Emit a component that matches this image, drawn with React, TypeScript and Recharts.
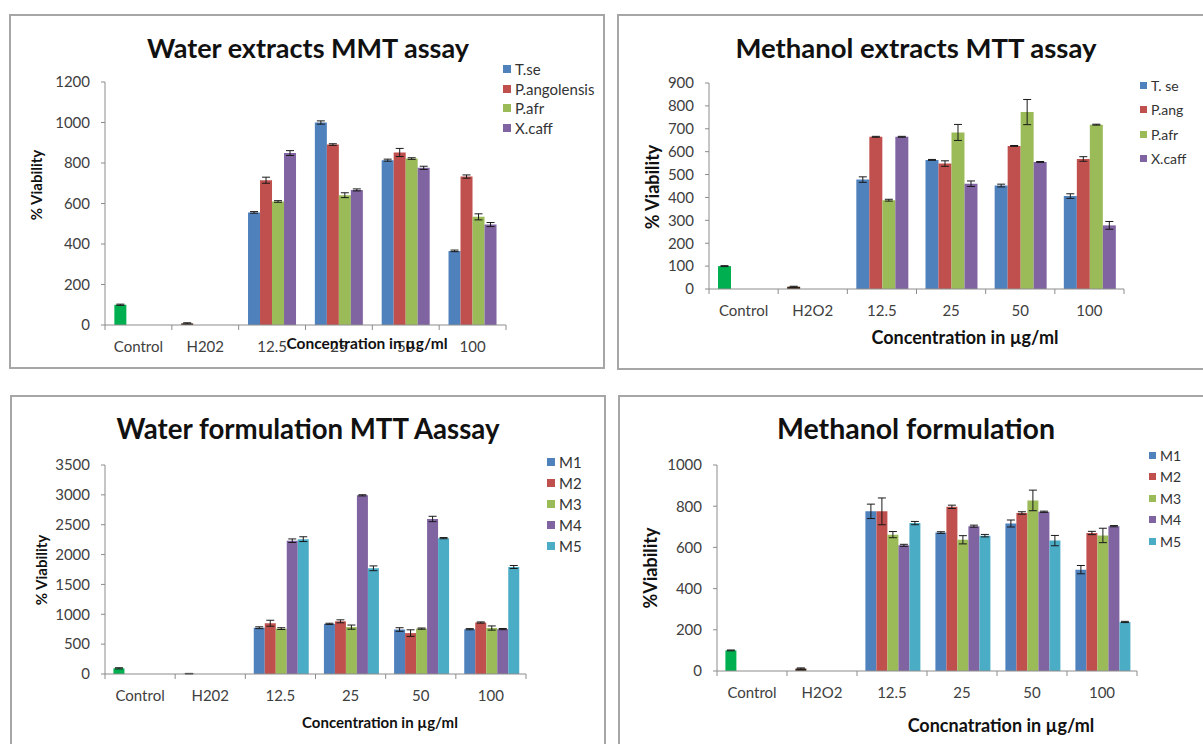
import React from 'react';
import { BarChart, Bar, XAxis, YAxis, ErrorBar, Cell } from 'recharts';

// ---------- data ----------
const categoriesWaterExt = ['Control', 'H202', '12.5', '25', '50', '100'];
const categoriesMethExt = ['Control', 'H2O2', '12.5', '25', '50', '100'];
const categoriesWaterForm = ['Control', 'H202', '12.5', '25', '50', '100'];
const categoriesMethForm = ['Control', 'H2O2', '12.5', '25', '50', '100'];

// Panel 1: Water extracts
const we_tse = [100, 8, 556, 1000, 814, 366];
const we_tseErr = [3, 3, 4, 8, 5, 4];
const we_pang = [null, null, 715, 891, 852, 733];
const we_pangErr = [null, null, 15, 4, 20, 8];
const we_pafr = [null, null, 610, 641, 822, 534];
const we_pafrErr = [null, null, 4, 12, 4, 15];
const we_xcaff = [null, null, 849, 667, 776, 496];
const we_xcaffErr = [null, null, 12, 5, 8, 10];

// Panel 2: Methanol extracts
const me_tse = [100, 10, 478, 564, 452, 406];
const me_tseErr = [2, 2, 12, 2, 6, 10];
const me_pang = [null, null, 665, 548, 625, 568];
const me_pangErr = [null, null, 2, 12, 2, 10];
const me_pafr = [null, null, 388, 684, 773, 718];
const me_pafrErr = [null, null, 4, 35, 55, 2];
const me_xcaff = [null, null, 665, 460, 555, 278];
const me_xcaffErr = [null, null, 2, 12, 2, 17];

// Panel 3: Water formulation
const wf_m1 = [95, 5, 775, 840, 745, 750];
const wf_m1Err = [10, 5, 15, 10, 30, 10];
const wf_m2 = [null, null, 850, 882, 685, 862];
const wf_m2Err = [null, null, 50, 25, 55, 10];
const wf_m3 = [null, null, 760, 785, 760, 770];
const wf_m3Err = [null, null, 15, 35, 10, 35];
const wf_m4 = [null, null, 2232, 2992, 2596, 752];
const wf_m4Err = [null, null, 30, 10, 45, 10];
const wf_m5 = [null, null, 2258, 1770, 2275, 1792];
const wf_m5Err = [null, null, 40, 40, 10, 25];

// Panel 4: Methanol formulation
const mf_m1 = [100, 12, 775, 672, 716, 492];
const mf_m1Err = [2, 3, 35, 4, 17, 20];
const mf_m2 = [null, null, 775, 797, 767, 670];
const mf_m2Err = [null, null, 65, 8, 6, 8];
const mf_m3 = [null, null, 662, 637, 828, 658];
const mf_m3Err = [null, null, 15, 20, 50, 35];
const mf_m4 = [null, null, 610, 703, 773, 703];
const mf_m4Err = [null, null, 5, 5, 3, 3];
const mf_m5 = [null, null, 718, 657, 633, 238];
const mf_m5Err = [null, null, 8, 6, 25, 3];

const ticksWaterExt = [0, 200, 400, 600, 800, 1000, 1200];
const ticksMethExt = [0, 100, 200, 300, 400, 500, 600, 700, 800, 900];
const ticksWaterForm = [0, 500, 1000, 1500, 2000, 2500, 3000, 3500];
const ticksMethForm = [0, 200, 400, 600, 800, 1000];

// ---------- styles ----------
const FONT = 'Lato, "Open Sans", sans-serif';
const BLUE = '#4F81BD';
const RED = '#C0504D';
const GREEN = '#9BBB59';
const PURPLE = '#8064A2';
const AQUA = '#4BACC6';
const CONTROL = '#00B050';
const H2O2C = '#3d2314';
const AXIS = '#8c8c8c';
const TICKTXT = '#404040';

type Series = { name: string; values: (number | null)[]; errors: (number | null)[]; color: string };

const XTick = (props: any) => {
  const { x, y, payload, index, band, n } = props;
  return (
    <g>
      <line x1={x - band / 2} x2={x - band / 2} y1={y} y2={y + 5} stroke={AXIS} />
      {index === n - 1 ? <line x1={x + band / 2} x2={x + band / 2} y1={y} y2={y + 5} stroke={AXIS} /> : null}
      <text x={x} y={y + 27} textAnchor="middle" fontSize={15} fill={TICKTXT} fontFamily={FONT}>
        {payload.value}
      </text>
    </g>
  );
};

function ChartPanel(props: {
  categories: string[];
  series: Series[];
  plotLeft: number;
  plotRight: number;
  plotTop: number;
  plotBottom: number;
  yTicks: number[];
  gap: string;
}) {
  const { categories, series, plotLeft, plotRight, plotTop, plotBottom, yTicks, gap } = props;
  const yw = 60, mt = 10, mr = 10, xh = 30, mb = 10;
  const left = plotLeft - yw;
  const top = plotTop - mt;
  const width = plotRight - left + mr;
  const height = plotBottom - top + xh + mb;
  const band = (plotRight - plotLeft) / categories.length;
  const rows = categories.map((c, i) => {
    const r: any = { cat: c };
    series.forEach((s, k) => {
      r['v' + k] = s.values[i];
      r['e' + k] = s.errors[i];
    });
    return r;
  });
  return (
    <div style={{ position: 'absolute', left, top, width, height }}>
      <BarChart
        width={width}
        height={height}
        data={rows}
        margin={{ top: mt, right: mr, bottom: mb, left: 0 }}
        barCategoryGap={gap}
        barGap={0}
      >
        <XAxis
          dataKey="cat"
          height={xh}
          interval={0}
          tickSize={0}
          tickMargin={0}
          axisLine={{ stroke: AXIS }}
          tickLine={false}
          tick={(p: any) => <XTick {...p} band={band} n={categories.length} />}
        />
        <YAxis
          width={yw}
          domain={[0, yTicks[yTicks.length - 1]]}
          ticks={yTicks}
          interval={0}
          tickSize={4}
          tickMargin={11}
          axisLine={{ stroke: AXIS }}
          tickLine={{ stroke: AXIS }}
          tick={{ fontSize: 15, fill: TICKTXT, fontFamily: FONT }}
        />
        {series.map((s, k) => (
          <Bar key={s.name} dataKey={'v' + k} name={s.name} fill={s.color} isAnimationActive={false}>
            {k === 0
              ? rows.map((_, i) => <Cell key={i} fill={i === 0 ? CONTROL : i === 1 ? H2O2C : s.color} />)
              : null}
            <ErrorBar dataKey={'e' + k} width={4} stroke="#1a1a1a" strokeWidth={1} direction="y" />
          </Bar>
        ))}
      </BarChart>
    </div>
  );
}

function Legend(props: { series: Series[]; left: number; top: number; spacing: number; fontSize: number; sq: number }) {
  const { series, left, top, spacing, fontSize, sq } = props;
  return (
    <>
      {series.map((s, i) => (
        <div
          key={s.name}
          style={{
            position: 'absolute',
            left,
            top: top + i * spacing,
            height: 20,
            transform: 'translateY(-50%)',
            display: 'flex',
            alignItems: 'center',
            fontFamily: FONT,
            fontSize,
            color: '#333',
            whiteSpace: 'nowrap',
          }}
        >
          <span style={{ display: 'inline-block', width: sq, height: sq, background: s.color, marginRight: 4 }} />
          {s.name}
        </div>
      ))}
    </>
  );
}

function Txt(props: { text: string; x: number; y: number; size: number; rotate?: boolean; weight?: number }) {
  const { text, x, y, size, rotate, weight = 700 } = props;
  return (
    <div
      style={{
        position: 'absolute',
        left: x,
        top: y,
        transform: `translate(-50%, -50%)${rotate ? ' rotate(-90deg)' : ''}`,
        fontFamily: FONT,
        fontWeight: weight,
        fontSize: size,
        color: '#111',
        whiteSpace: 'nowrap',
        lineHeight: 1,
      }}
    >
      {text}
    </div>
  );
}

const boxStyle = (left: number, top: number, width: number, height: number): React.CSSProperties => ({
  position: 'absolute',
  left,
  top,
  width,
  height,
  border: '2px solid #a6a6a6',
  boxSizing: 'border-box',
});

export default function App() {
  const s1: Series[] = [
    { name: 'T.se', values: we_tse, errors: we_tseErr, color: BLUE },
    { name: 'P.angolensis', values: we_pang, errors: we_pangErr, color: RED },
    { name: 'P.afr', values: we_pafr, errors: we_pafrErr, color: GREEN },
    { name: 'X.caff', values: we_xcaff, errors: we_xcaffErr, color: PURPLE },
  ];
  const s2: Series[] = [
    { name: 'T. se', values: me_tse, errors: me_tseErr, color: BLUE },
    { name: 'P.ang', values: me_pang, errors: me_pangErr, color: RED },
    { name: 'P.afr', values: me_pafr, errors: me_pafrErr, color: GREEN },
    { name: 'X.caff', values: me_xcaff, errors: me_xcaffErr, color: PURPLE },
  ];
  const s3: Series[] = [
    { name: 'M1', values: wf_m1, errors: wf_m1Err, color: BLUE },
    { name: 'M2', values: wf_m2, errors: wf_m2Err, color: RED },
    { name: 'M3', values: wf_m3, errors: wf_m3Err, color: GREEN },
    { name: 'M4', values: wf_m4, errors: wf_m4Err, color: PURPLE },
    { name: 'M5', values: wf_m5, errors: wf_m5Err, color: AQUA },
  ];
  const s4: Series[] = [
    { name: 'M1', values: mf_m1, errors: mf_m1Err, color: BLUE },
    { name: 'M2', values: mf_m2, errors: mf_m2Err, color: RED },
    { name: 'M3', values: mf_m3, errors: mf_m3Err, color: GREEN },
    { name: 'M4', values: mf_m4, errors: mf_m4Err, color: PURPLE },
    { name: 'M5', values: mf_m5, errors: mf_m5Err, color: AQUA },
  ];

  return (
    <div style={{ position: 'absolute', left: 0, top: 0, width: 1203, height: 744, background: '#fff', overflow: 'hidden' }}>
      <div style={boxStyle(9, 14, 596, 355)} />
      <div style={boxStyle(617, 14, 600, 356)} />
      <div style={boxStyle(10, 395, 596, 400)} />
      <div style={boxStyle(618, 395, 600, 400)} />

      <ChartPanel categories={categoriesWaterExt} series={s1} plotLeft={105} plotRight={506} plotTop={82} plotBottom={325} yTicks={ticksWaterExt} gap="14%" />
      <ChartPanel categories={categoriesMethExt} series={s2} plotLeft={709} plotRight={1124} plotTop={83} plotBottom={289} yTicks={ticksMethExt} gap="13%" />
      <ChartPanel categories={categoriesWaterForm} series={s3} plotLeft={105} plotRight={526} plotTop={465} plotBottom={674} yTicks={ticksWaterForm} gap="12%" />
      <ChartPanel categories={categoriesMethForm} series={s4} plotLeft={717} plotRight={1137} plotTop={465} plotBottom={671} yTicks={ticksMethForm} gap="12%" />

      <Txt text="Water extracts MMT assay" x={308} y={47} size={27} />
      <Txt text="Methanol extracts MTT assay" x={916} y={48} size={27.5} />
      <Txt text="Water formulation MTT Aassay" x={308} y={429} size={27.6} />
      <Txt text="Methanol formulation" x={916} y={428} size={28.5} />

      <Txt text="% Viability" x={36} y={185} size={15} rotate />
      <Txt text="% Viability" x={652} y={187} size={18} rotate />
      <Txt text="% Viability" x={41} y={570} size={15} rotate />
      <Txt text="%Viability" x={650} y={568} size={18} rotate />

      <Txt text="Concentration in µg/ml" x={367} y={344} size={15.5} />
      <Txt text="Concentration in µg/ml" x={965} y={337} size={18} />
      <Txt text="Concentration in µg/ml" x={380} y={722} size={15} />
      <Txt text="Concnatration in µg/ml" x={1001} y={725} size={18} />

      <Legend series={s1} left={503} top={69} spacing={19.5} fontSize={15} sq={8} />
      <Legend series={s2} left={1140} top={85} spacing={24.5} fontSize={14} sq={7} />
      <Legend series={s3} left={547} top={462} spacing={21} fontSize={15} sq={8} />
      <Legend series={s4} left={1149} top={455} spacing={21.5} fontSize={14} sq={7} />
    </div>
  );
}
